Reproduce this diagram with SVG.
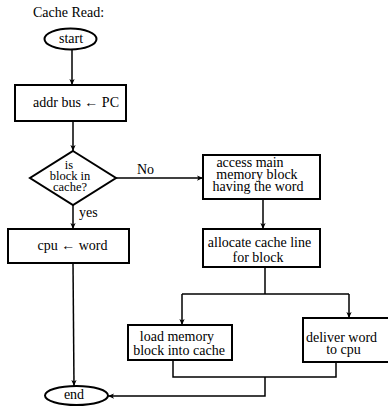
<svg xmlns="http://www.w3.org/2000/svg" width="388" height="406" viewBox="0 0 388 406">
<style>
text{font-family:"Liberation Serif","Times New Roman",serif;font-size:14px;fill:#000}
.sm{font-size:12.5px}
.shape{fill:#fff;stroke:#000;stroke-width:2}
.conn{fill:none;stroke:#000;stroke-width:1.5}
</style>
<defs>
<marker id="ah" viewBox="0 0 8 8" refX="8" refY="4" markerWidth="6" markerHeight="6" markerUnits="userSpaceOnUse" orient="auto">
<path d="M0,0.5 L8,4 L0,7.5 L2,4 Z" fill="#000"/>
</marker>
</defs>
<text x="33" y="17">Cache Read:</text>
<g id="connectors">
<path class="conn" d="M72,50 V85" marker-end="url(#ah)"/>
<path class="conn" d="M73,121 V151" marker-end="url(#ah)"/>
<path class="conn" d="M73,205 V229" marker-end="url(#ah)"/>
<path class="conn" d="M116,178 H203" marker-end="url(#ah)"/>
<path class="conn" d="M73,263 L74,386" marker-end="url(#ah)"/>
<path class="conn" d="M263,199 V229" marker-end="url(#ah)"/>
<path class="conn" d="M265,267 V294"/>
<path class="conn" d="M182,294 H349"/>
<path class="conn" d="M182,294 V325" marker-end="url(#ah)"/>
<path class="conn" d="M349,294 V318" marker-end="url(#ah)"/>
<path class="conn" d="M173,360 V377 H336 V362"/>
<path class="conn" d="M265,377 V396 H108" marker-end="url(#ah)"/>
<text x="137" y="174">No</text>
<text x="79" y="217">yes</text>
</g>
<g id="start">
<ellipse class="shape" cx="70.5" cy="39" rx="26" ry="10.5"/>
<text x="71" y="43" text-anchor="middle">start</text>
</g>
<g id="addr">
<rect class="shape" x="15" y="85" width="111" height="36"/>
<text x="76" y="107" text-anchor="middle">addr bus ← PC</text>
</g>
<g id="decision">
<polygon class="shape" points="73,151 116,178 73,205 30,178"/>
<text class="sm" x="69" y="168.5" text-anchor="middle">is</text>
<text class="sm" x="70" y="179.5" text-anchor="middle">block in</text>
<text class="sm" x="70" y="190.5" text-anchor="middle">cache?</text>
</g>
<g id="cpu">
<rect class="shape" x="8" y="229" width="121" height="34"/>
<text x="72.5" y="250" text-anchor="middle">cpu ← word</text>
</g>
<g id="access">
<rect class="shape" x="203" y="155" width="117" height="44"/>
<text x="250" y="167" text-anchor="middle">access main</text>
<text x="257" y="179" text-anchor="middle">memory block</text>
<text x="258" y="191" text-anchor="middle">having the word</text>
</g>
<g id="allocate">
<rect class="shape" x="203" y="229" width="117" height="38"/>
<text x="259.5" y="247" text-anchor="middle">allocate cache line</text>
<text x="258" y="262" text-anchor="middle">for block</text>
</g>
<g id="load">
<rect class="shape" x="128" y="325" width="104" height="35"/>
<text x="177" y="341" text-anchor="middle">load memory</text>
<text x="179" y="355" text-anchor="middle">block into cache</text>
</g>
<g id="deliver">
<rect class="shape" x="303" y="318" width="86" height="44"/>
<text x="341.5" y="341.5" text-anchor="middle">deliver word</text>
<text x="343.5" y="353.5" text-anchor="middle">to cpu</text>
</g>
<g id="end">
<ellipse class="shape" cx="76.5" cy="395.5" rx="31.5" ry="9.5"/>
<text x="74" y="399" text-anchor="middle">end</text>
</g>
</svg>
